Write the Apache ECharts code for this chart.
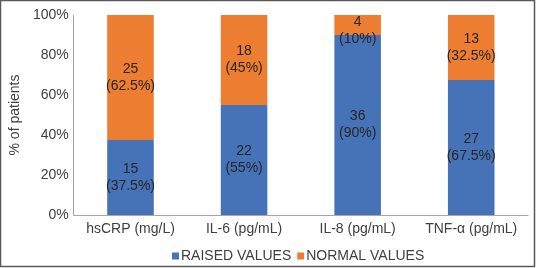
<!DOCTYPE html>
<html>
<head>
<meta charset="utf-8">
<script src="https://cdn.jsdelivr.net/npm/echarts@6/dist/echarts.min.js"></script>
<style>
html,body{margin:0;padding:0;background:#fff;}
#c{width:538px;height:268px;}
</style>
</head>
<body>
<div id="c"></div>
<script>
var categories = ['hsCRP (mg/L)', 'IL-6 (pg/mL)', 'IL-8 (pg/mL)', 'TNF-\u03b1 (pg/mL)'];
var raisedCounts = [15, 22, 36, 27];
var raisedPct = [37.5, 55, 90, 67.5];
var normalCounts = [25, 18, 4, 13];
var normalPct = [62.5, 45, 10, 32.5];
var yTicks = ['0%', '20%', '40%', '60%', '80%', '100%'];

var FONT = '"Liberation Sans", Arial, sans-serif';
var TXT = '#404040';

function fmtPct(v){ return '(' + v + '%)'; }

function makeData(pcts, counts, offsets){
  return pcts.map(function(p, i){
    var d = {value: p, cnt: counts[i]};
    if (offsets && offsets[i]) d.label = {offset: offsets[i]};
    return d;
  });
}

var chart = echarts.init(document.getElementById('c'), null, {renderer: 'canvas'});
chart.setOption({
  animation: false,
  textStyle: {fontFamily: FONT},
  grid: {left: 66, right: 10, top: 15, bottom: 53},
  graphic: [{
    type: 'rect', shape: {x: 0.5, y: 0.5, width: 534, height: 266},
    style: {fill: 'none', stroke: '#595959', lineWidth: 1.5}, silent: true
  }],
  legend: {
    left: 167, top: 244,
    itemWidth: 7, itemHeight: 7, itemGap: 6,
    icon: 'rect',
    textStyle: {fontFamily: FONT, fontSize: 14, color: TXT, padding: [0,0,0,-3]},
    data: ['RAISED VALUES', 'NORMAL VALUES']
  },
  xAxis: {
    type: 'category', data: categories,
    axisLine: {lineStyle: {color: '#A6A6A6', width: 1}},
    axisTick: {show: false},
    axisLabel: {interval: 0, fontFamily: FONT, fontSize: 14, color: TXT, margin: 7}
  },
  yAxis: {
    type: 'value', min: 0, max: 100, interval: 20,
    name: '% of patients', nameLocation: 'middle', nameGap: 46,
    nameTextStyle: {fontFamily: FONT, fontSize: 14, color: TXT},
    axisLine: {show: true, lineStyle: {color: '#A6A6A6', width: 1}},
    axisTick: {show: false},
    splitLine: {show: false},
    axisLabel: {
      fontFamily: FONT, fontSize: 14, color: TXT, margin: 5,
      formatter: function(v){ return yTicks[Math.round(v/20)]; }
    }
  },
  series: [{
    name: 'RAISED VALUES', type: 'bar', stack: 'a', barWidth: '41%',
    itemStyle: {color: '#4672B8'},
    label: {
      show: true, position: 'inside', fontFamily: FONT, fontSize: 14, color: '#262626', lineHeight: 17,
      formatter: function(p){ return p.data.cnt + '\n' + fmtPct(p.value); }
    },
    data: makeData(raisedPct, raisedCounts)
  }, {
    name: 'NORMAL VALUES', type: 'bar', stack: 'a', barWidth: '41%',
    itemStyle: {color: '#ED7D31'},
    label: {
      show: true, position: 'inside', fontFamily: FONT, fontSize: 14, color: '#262626', lineHeight: 17,
      formatter: function(p){ return p.data.cnt + '\n' + fmtPct(p.value); }
    },
    data: makeData(normalPct, normalCounts, [null, null, [0, 6], null])
  }]
});
</script>
</body>
</html>
